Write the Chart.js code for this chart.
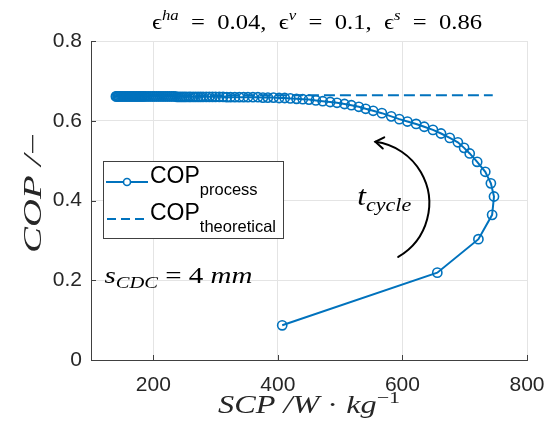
<!DOCTYPE html>
<html><head><meta charset="utf-8">
<script src="https://cdn.jsdelivr.net/npm/chart.js@4.4.1/dist/chart.umd.min.js"></script>
<style>html,body{margin:0;padding:0;background:#fff;}#wrap{width:549px;height:430px;}</style>
</head><body><div id="wrap"><canvas id="c" width="549" height="430"></canvas></div>
<script>
// ---- data ----
const xTicks = [200, 400, 600, 800];
const yTicks = [0, 0.2, 0.4, 0.6, 0.8];
const yTickLabels = ['0', '0.2', '0.4', '0.6', '0.8'];

// COP_process vs SCP, ordered by increasing cycle time
const scpProcess = [
  407, 656, 722, 744, 747, 742, 733, 720, 708, 699,
  689, 676, 662, 649, 635, 622, 608, 595, 582, 567,
  553, 541, 530, 518, 507, 495, 484, 472, 461, 450,
  440, 430, 420, 411, 402, 393, 384, 376, 368, 360,
  352, 345, 338, 331, 324, 318, 312, 306, 300, 295,
  290, 285, 280, 276, 272, 268, 264, 260, 257, 253,
  250, 247, 244, 241, 238, 235, 232, 229, 226, 223,
  220, 217, 214, 211, 208, 205, 202, 199, 196, 193,
  190, 187, 185, 183, 181, 179, 177, 175, 173, 171,
  169, 167, 165, 163, 161, 159, 157, 155, 153, 151,
  149, 147, 145, 143, 141, 140
];
const copProcess = [
  0.087, 0.219, 0.303, 0.364, 0.410, 0.443, 0.472, 0.497, 0.518, 0.532,
  0.546, 0.557, 0.568, 0.577, 0.585, 0.592, 0.598, 0.604, 0.611, 0.619,
  0.625, 0.630, 0.635, 0.639, 0.642, 0.645, 0.647, 0.649, 0.651, 0.653,
  0.654, 0.655, 0.656, 0.657, 0.657, 0.658, 0.658, 0.658, 0.659, 0.659,
  0.659, 0.659, 0.659, 0.659, 0.659, 0.659, 0.660, 0.660, 0.660, 0.660,
  0.660, 0.660, 0.660, 0.660, 0.660, 0.660, 0.660, 0.660, 0.660, 0.660,
  0.660, 0.660, 0.660, 0.660, 0.660, 0.661, 0.661, 0.661, 0.661, 0.661,
  0.661, 0.661, 0.661, 0.661, 0.661, 0.661, 0.661, 0.661, 0.661, 0.661,
  0.661, 0.661, 0.661, 0.661, 0.661, 0.661, 0.661, 0.661, 0.661, 0.661,
  0.661, 0.661, 0.661, 0.661, 0.661, 0.661, 0.661, 0.661, 0.661, 0.661,
  0.661, 0.661, 0.661, 0.661, 0.661, 0.661
];
// COP_theoretical
const scpTheoretical = [140, 745];
const copTheoretical = [0.664, 0.664];

// ---- styling ----
const BLUE = '#0072BD';
const AX = '#404040';
const TXT = '#262626';
const GRID = '#e4e4e4';
const SANS = '"Liberation Sans", Arial, sans-serif';
const SERIF = '"Liberation Serif", "DejaVu Serif", serif';
const it = s => 'italic ' + s + 'px ' + SERIF;
const rm = s => s + 'px ' + SERIF;

function rich(ctx, parts, x, y, align, targetW) {
  let w = 0;
  for (const p of parts) { ctx.font = p[1]; w += ctx.measureText(p[0]).width; }
  const sx = targetW ? targetW / w : 1;
  ctx.save();
  ctx.translate(x, y);
  ctx.scale(sx, 1);
  ctx.textBaseline = 'alphabetic';
  ctx.textAlign = 'left';
  let cx = align === 'center' ? -w / 2 : (align === 'right' ? -w : 0);
  for (const p of parts) {
    ctx.font = p[1];
    ctx.fillText(p[0], cx, p[2] || 0);
    cx += ctx.measureText(p[0]).width;
  }
  ctx.restore();
}

const overlay = {
  id: 'overlay',
  afterDraw(chart) {
    const ctx = chart.ctx;
    const xs = chart.scales.x, ys = chart.scales.y;
    const a = chart.chartArea;
    ctx.save();
    // inward tick marks
    ctx.strokeStyle = AX; ctx.lineWidth = 1;
    ctx.beginPath();
    for (const v of xTicks) {
      const px = Math.round(xs.getPixelForValue(v)) + 0.5;
      ctx.moveTo(px, a.bottom); ctx.lineTo(px, a.bottom - 5);
    }
    for (const v of yTicks) {
      const py = Math.round(ys.getPixelForValue(v)) + 0.5;
      ctx.moveTo(a.left, py); ctx.lineTo(a.left + 5, py);
    }
    ctx.stroke();

    ctx.fillStyle = '#000';
    // title
    rich(ctx, [
      ['\u03F5', rm(22)], ['ha', it(15), -9], ['  =  0.04,  ', rm(22)],
      ['\u03F5', rm(22)], ['v', it(15), -9], ['  =  0.1,  ', rm(22)],
      ['\u03F5', rm(22)], ['s', it(15), -9], ['  =  0.86', rm(22)]
    ], (a.left + a.right) / 2 + 8, 29, 'center', 330);

    ctx.fillStyle = TXT;
    // x label
    rich(ctx, [['SCP', it(25)], [' /', it(25)], ['W', it(25)], [' \u00B7 ', rm(25)], ['kg', it(25)], ['\u22121', rm(17), -10]],
      (a.left + a.right) / 2, 413, 'center', 182);
    // y label
    ctx.save();
    ctx.translate(41, 193);
    ctx.rotate(-Math.PI / 2);
    rich(ctx, [['COP', it(25)], [' /', it(25)], ['\u2212', rm(25)]], 0, 0, 'center', 120);
    ctx.restore();

    ctx.fillStyle = '#000';
    // s_CDC annotation
    rich(ctx, [['s', it(24)], ['CDC', it(17), 5], [' = 4 ', rm(24)], ['mm', it(24)]],
      xs.getPixelForValue(121.5), ys.getPixelForValue(0.193), 'left', 148);
    // t_cycle annotation
    rich(ctx, [['t', it(27)], ['cycle', it(19), 6]],
      xs.getPixelForValue(527.5), ys.getPixelForValue(0.389), 'left', 54);

    // curved arrow
    const cx = xs.getPixelForValue(543.5), cy = ys.getPixelForValue(0.393), r = 62;
    const a0 = 60 * Math.PI / 180, a1 = -82.5 * Math.PI / 180;
    ctx.strokeStyle = '#000'; ctx.lineWidth = 2; ctx.lineCap = 'round';
    ctx.beginPath(); ctx.arc(cx, cy, r, a0, a1, true); ctx.stroke();
    const tx = cx + r * Math.cos(a1), ty = cy + r * Math.sin(a1);
    const dir = Math.atan2(-Math.cos(a1), Math.sin(a1));
    ctx.beginPath();
    ctx.moveTo(tx + 10 * Math.cos(dir + Math.PI - 0.6), ty + 10 * Math.sin(dir + Math.PI - 0.6));
    ctx.lineTo(tx, ty);
    ctx.lineTo(tx + 10 * Math.cos(dir + Math.PI + 0.6), ty + 10 * Math.sin(dir + Math.PI + 0.6));
    ctx.stroke();

    // legend
    const lx = a.left + 12, ly = 161, lw = 180, lh = 77;
    ctx.fillStyle = '#fff';
    ctx.fillRect(lx, ly, lw, lh);
    ctx.strokeStyle = AX; ctx.lineWidth = 1; ctx.lineCap = 'butt';
    ctx.strokeRect(lx + 0.5, ly + 0.5, lw, lh);
    ctx.strokeStyle = BLUE; ctx.lineWidth = 2;
    ctx.beginPath(); ctx.moveTo(lx + 3, ly + 21); ctx.lineTo(lx + 45, ly + 21); ctx.stroke();
    ctx.lineWidth = 1.6;
    ctx.fillStyle = '#fff';
    ctx.beginPath(); ctx.arc(lx + 24, ly + 21, 3.5, 0, Math.PI * 2); ctx.fill(); ctx.stroke();
    ctx.lineWidth = 2; ctx.setLineDash([9, 5]);
    ctx.beginPath(); ctx.moveTo(lx + 4, ly + 58); ctx.lineTo(lx + 45, ly + 58); ctx.stroke();
    ctx.setLineDash([]);
    ctx.fillStyle = '#000';
    rich(ctx, [['COP', '23px ' + SANS], ['process', '16.5px ' + SANS, 12]], lx + 47, ly + 22, 'left');
    rich(ctx, [['COP', '23px ' + SANS], ['theoretical', '16.5px ' + SANS, 12]], lx + 47, ly + 59, 'left');
    ctx.restore();
  }
};

const ctx = document.getElementById('c').getContext('2d');
new Chart(ctx, {
  type: 'scatter',
  data: {
    datasets: [
      {
        label: 'COP process',
        data: scpProcess.map((x, i) => ({ x: x, y: copProcess[i] })),
        showLine: true, borderColor: BLUE, borderWidth: 2, tension: 0,
        pointRadius: 4.6, pointHoverRadius: 4.6, pointBorderWidth: 1.6,
        pointBorderColor: BLUE, pointBackgroundColor: 'rgba(255,255,255,0)'
      },
      {
        label: 'COP theoretical',
        data: scpTheoretical.map((x, i) => ({ x: x, y: copTheoretical[i] })),
        showLine: true, borderColor: BLUE, borderWidth: 2, borderDash: [11, 5],
        pointRadius: 0, pointHoverRadius: 0
      }
    ]
  },
  options: {
    responsive: false, animation: false, devicePixelRatio: 1,
    layout: { padding: { top: 41, right: 22, left: 0, bottom: 0 } },
    plugins: { legend: { display: false }, tooltip: { enabled: false }, title: { display: false } },
    scales: {
      x: {
        type: 'linear', min: 100, max: 800,
        afterBuildTicks: s => { s.ticks = xTicks.map(v => ({ value: v })); },
        afterFit: s => { s.height = 70; s.paddingLeft = 0; s.paddingRight = 0; },
        grid: { color: GRID, drawTicks: false, lineWidth: 1 },
        border: { display: true, color: AX, width: 1 },
        ticks: { font: { family: SANS, size: 21 }, color: TXT, padding: 13, maxRotation: 0, autoSkip: false }
      },
      y: {
        type: 'linear', min: 0, max: 0.8,
        afterBuildTicks: s => { s.ticks = yTicks.map(v => ({ value: v })); },
        afterFit: s => { s.width = 91; s.paddingTop = 0; s.paddingBottom = 0; },
        grid: { color: GRID, drawTicks: false, lineWidth: 1 },
        border: { display: true, color: AX, width: 1 },
        ticks: {
          font: { family: SANS, size: 21 }, color: TXT, padding: 9, autoSkip: false,
          callback: (v) => { const i = yTicks.indexOf(v); return i >= 0 ? yTickLabels[i] : ''; }
        }
      }
    }
  },
  plugins: [overlay]
});
</script></body></html>
